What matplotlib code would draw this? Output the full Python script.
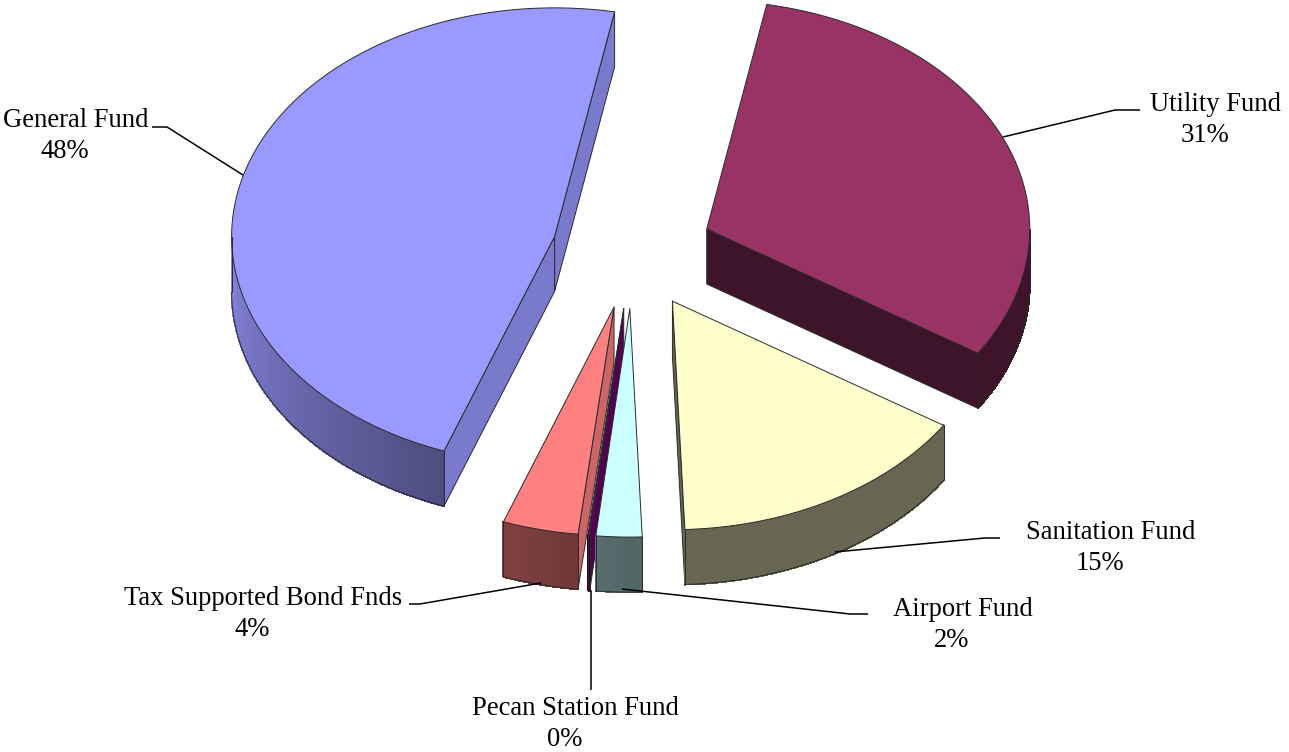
import numpy as np
import matplotlib
matplotlib.use("Agg")
import matplotlib.pyplot as plt
from matplotlib.patches import Polygon

funds = ["Utility Fund", "Sanitation Fund", "Airport Fund", "Pecan Station Fund",
         "Tax Supported Bond Fnds", "General Fund"]
values = [31.3, 15.3, 2.3, 0.1, 3.8, 47.6]
colors = ["#993366", "#FFFFCC", "#CCFFFF", "#660066", "#FF8080", "#9999FF"]

START = 10.7
CX, CY = 632.5, 251.5
RX, RY = 323.0, 228.5
EXPLODE = 0.25
DEPTH = 55.0
EDGE = "#2a2a2a"
LW = 0.7

plt.rcParams["font.family"] = ["Liberation Serif", "DejaVu Serif"]
fig = plt.figure(figsize=(12.89, 7.52), dpi=100, facecolor="white")
ax = fig.add_axes([0, 0, 1, 1])
ax.set_xlim(0, 1289)
ax.set_ylim(752, 0)
ax.axis("off")


def shade(hex_color, f):
    r = np.array(matplotlib.colors.to_rgb(hex_color)) * f
    return tuple(r)


def wall_factor(t):
    return float(np.interp(t, [180, 270], [0.40, 0.87]))


def rim(ax0, ay0, t):
    r = np.radians(t)
    return ax0 + RX * np.sin(r), ay0 - RY * np.cos(r)


fracs = np.array(values) / sum(values)
edges = START + np.concatenate([[0], np.cumsum(fracs)]) * 360
order = [5, 0, 4, 3, 2, 1]

for i in order:
    t0, t1 = edges[i], edges[i + 1]
    mid = np.radians((t0 + t1) / 2)
    ax0 = CX + EXPLODE * RX * np.sin(mid)
    ay0 = CY - EXPLODE * RY * np.cos(mid)
    col = colors[i]

    # radial side faces
    for t, normal in ((t0, t0 - 90), (t1, t1 + 90)):
        visible = -np.cos(np.radians(normal)) > 0
        if not visible:
            continue
        f = 0.8 if np.sin(np.radians(normal)) > 0 else 0.4
        x, y = rim(ax0, ay0, t)
        ax.add_patch(Polygon([(ax0, ay0), (x, y), (x, y + DEPTH), (ax0, ay0 + DEPTH)],
                             closed=True, fc=shade(col, f), ec=EDGE, lw=LW, joinstyle="round"))

    # outer wall
    tt = np.linspace(t0, t1, max(int((t1 - t0) * 2), 8))
    tmod = ((tt - 90) % 360) + 90
    vis = tt[(tmod >= 90) & (tmod <= 270)]
    if vis.size > 1:
        wa, wb = vis[0], vis[-1]
        ts = np.linspace(wa, wb, max(int((wb - wa) * 2), 4))
        for a, b in zip(ts[:-1], ts[1:]):
            xa, ya = rim(ax0, ay0, a)
            xb, yb = rim(ax0, ay0, b)
            c = shade(col, wall_factor((a + b) / 2))
            ax.add_patch(Polygon([(xa, ya), (xb, yb), (xb, yb + DEPTH), (xa, ya + DEPTH)],
                                 closed=True, fc=c, ec=c, lw=0.8, antialiased=False))
        xs, ys = rim(ax0, ay0, ts)
        ax.plot(xs, ys + DEPTH, color=EDGE, lw=LW)
        ax.plot([xs[0], xs[0]], [ys[0], ys[0] + DEPTH], color=EDGE, lw=LW)
        ax.plot([xs[-1], xs[-1]], [ys[-1], ys[-1] + DEPTH], color=EDGE, lw=LW)

    # top surface
    ts = np.linspace(t0, t1, max(int(t1 - t0) * 2, 6))
    xs, ys = rim(ax0, ay0, ts)
    pts = [(ax0, ay0)] + list(zip(xs, ys))
    ax.add_patch(Polygon(pts, closed=True, fc=col, ec=EDGE, lw=LW, joinstyle="round"))

# leader lines and labels
leaders = {
    "General Fund": [(152, 127), (167, 127), (243, 175)],
    "Utility Fund": [(1140, 110), (1115, 110), (1003, 137)],
    "Sanitation Fund": [(1000, 538), (985, 538), (835, 552)],
    "Airport Fund": [(868, 614), (850, 614), (622, 589)],
    "Pecan Station Fund": [(591, 690), (591, 590)],
    "Tax Supported Bond Fnds": [(409, 604), (420, 604), (541, 583)],
}
label_pos = {
    "General Fund": (75.5, 127),
    "Utility Fund": (1216, 111),
    "Sanitation Fund": (1111, 539),
    "Airport Fund": (962.5, 616),
    "Pecan Station Fund": (575.5, 715),
    "Tax Supported Bond Fnds": (263, 605),
}
for name, v in zip(funds, values):
    pts = np.array(leaders[name])
    ax.plot(pts[:, 0], pts[:, 1], color="black", lw=1.1, solid_capstyle="butt")
    x, y = label_pos[name]
    ax.text(x, y, name, ha="center", va="baseline", fontsize=19.2, color="black")
    ax.text(x - 11, y + 31, f"{round(v)}%", ha="center", va="baseline", fontsize=19.2, color="black")

fig.savefig("out.png", dpi=100, facecolor="white")
